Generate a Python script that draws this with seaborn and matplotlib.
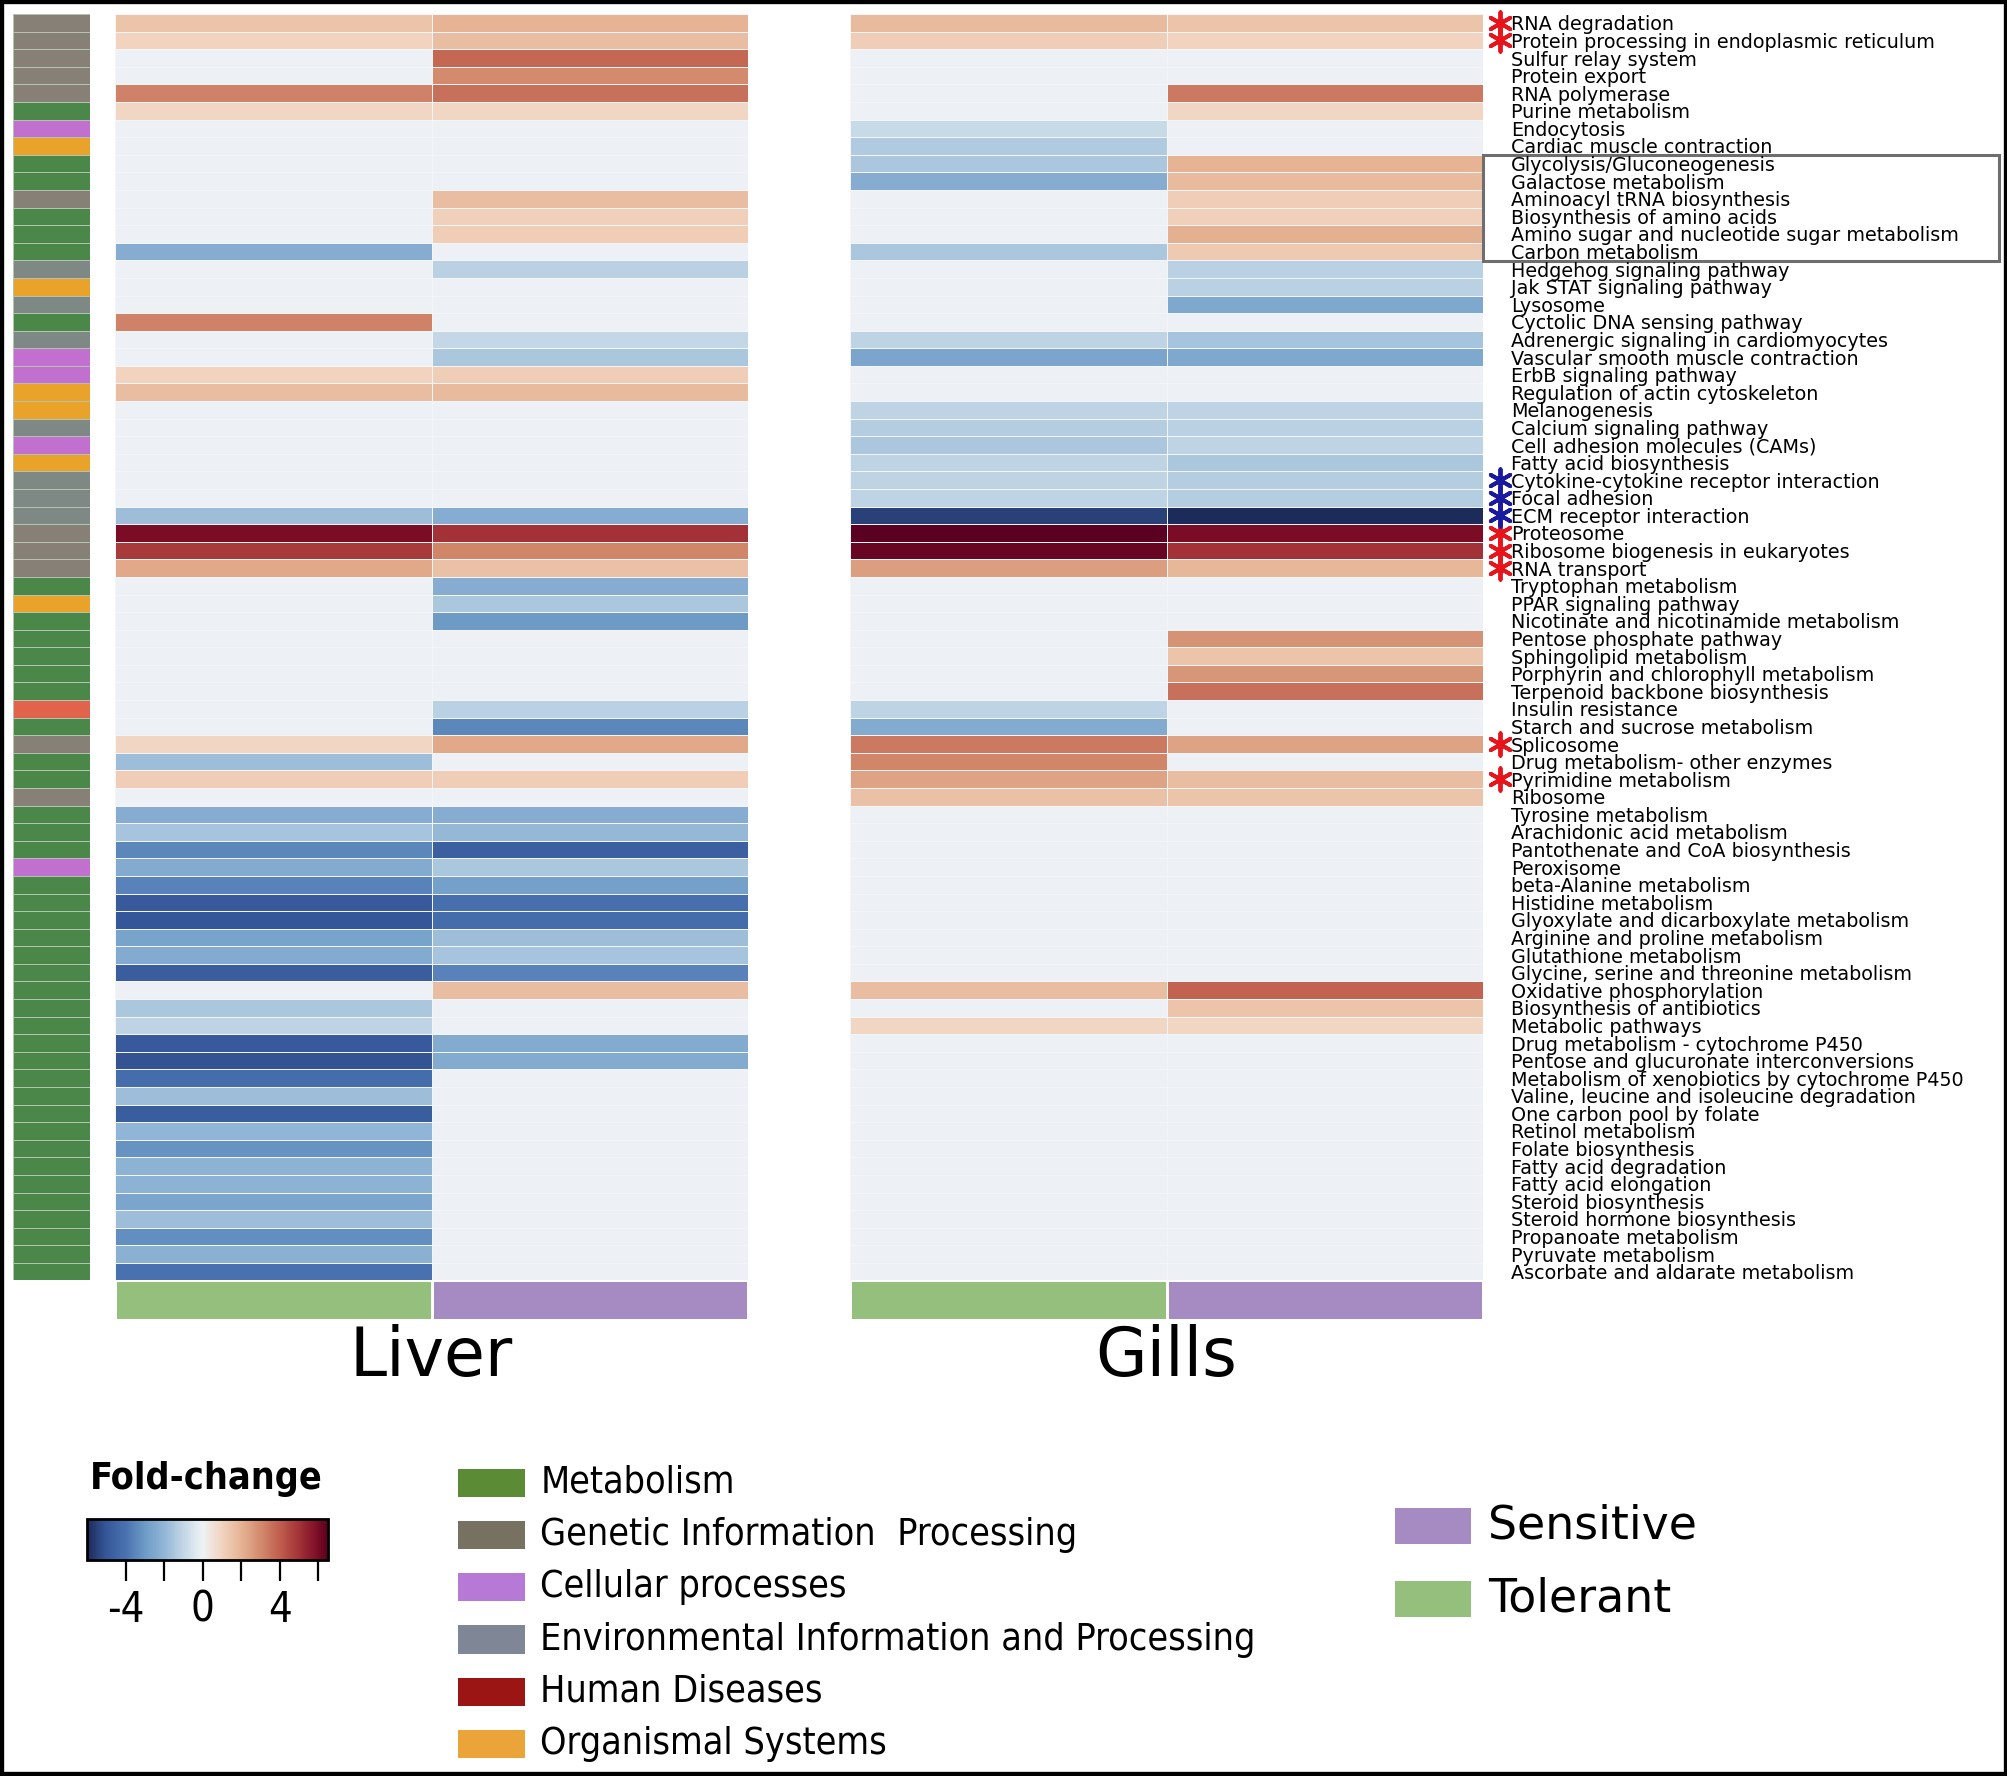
import numpy as np
import pandas as pd
import matplotlib
matplotlib.use("Agg")
import matplotlib.pyplot as plt
import seaborn as sns
from matplotlib.colors import LinearSegmentedColormap, ListedColormap, Normalize
from matplotlib.patches import Rectangle
from matplotlib import font_manager
import matplotlib.cm as cm

# ---- data ----
pathways = [
    "RNA degradation", "Protein processing in endoplasmic reticulum", "Sulfur relay system",
    "Protein export", "RNA polymerase", "Purine metabolism", "Endocytosis",
    "Cardiac muscle contraction", "Glycolysis/Gluconeogenesis", "Galactose metabolism",
    "Aminoacyl tRNA biosynthesis", "Biosynthesis of amino acids",
    "Amino sugar and nucleotide sugar metabolism", "Carbon metabolism",
    "Hedgehog signaling pathway", "Jak STAT signaling pathway", "Lysosome",
    "Cyctolic DNA sensing pathway", "Adrenergic signaling in cardiomyocytes",
    "Vascular smooth muscle contraction", "ErbB signaling pathway",
    "Regulation of actin cytoskeleton", "Melanogenesis", "Calcium signaling pathway",
    "Cell adhesion molecules (CAMs)", "Fatty acid biosynthesis",
    "Cytokine-cytokine receptor interaction", "Focal adhesion", "ECM receptor interaction",
    "Proteosome", "Ribosome biogenesis in eukaryotes", "RNA transport",
    "Tryptophan metabolism", "PPAR signaling pathway",
    "Nicotinate and nicotinamide metabolism", "Pentose phosphate pathway",
    "Sphingolipid metabolism", "Porphyrin and chlorophyll metabolism",
    "Terpenoid backbone biosynthesis", "Insulin resistance", "Starch and sucrose metabolism",
    "Splicosome", "Drug metabolism- other enzymes", "Pyrimidine metabolism", "Ribosome",
    "Tyrosine metabolism", "Arachidonic acid metabolism", "Pantothenate and CoA biosynthesis",
    "Peroxisome", "beta-Alanine metabolism", "Histidine metabolism",
    "Glyoxylate and dicarboxylate metabolism", "Arginine and proline metabolism",
    "Glutathione metabolism", "Glycine, serine and threonine metabolism",
    "Oxidative phosphorylation", "Biosynthesis of antibiotics", "Metabolic pathways",
    "Drug metabolism - cytochrome P450", "Pentose and glucuronate interconversions",
    "Metabolism of xenobiotics by cytochrome P450",
    "Valine, leucine and isoleucine degradation", "One carbon pool by folate",
    "Retinol metabolism", "Folate biosynthesis", "Fatty acid degradation",
    "Fatty acid elongation", "Steroid biosynthesis", "Steroid hormone biosynthesis",
    "Propanoate metabolism", "Pyruvate metabolism", "Ascorbate and aldarate metabolism",
]

liver_tolerant = [1.5, 1.0, 0, 0, 3.2, 0.9, 0, 0, 0, 0,
                  0, 0, 0, -2.3, 0, 0, 0, 3.2, 0, 0,
                  1.0, 1.7, 0, 0, 0, 0, 0, 0, -1.8, 6.0,
                  4.8, 2.3, 0, 0, 0, 0, 0, 0, 0, 0,
                  0, 0.9, -1.8, 1.2, 0, -2.3, -1.6, -3.5, -2.4, -3.6,
                  -4.9, -5.0, -2.7, -2.4, -4.8, 0, -1.5, -1.1, -4.9, -5.1,
                  -4.2, -1.8, -4.8, -2.0, -3.2, -2.1, -2.1, -2.6, -1.8, -3.3,
                  -2.2, -4.0]
liver_sensitive = [2.0, 1.7, 3.8, 3.0, 3.6, 0.9, 0, 0, 0, 0,
                   1.7, 1.1, 1.2, 0, -1.2, 0, 0, 0, -1.0, -1.5,
                   1.2, 1.8, 0, 0, 0, 0, 0, 0, -2.3, 5.0,
                   3.1, 1.6, -2.3, -1.5, -3.0, 0, 0, 0, 0, -1.2,
                   -3.5, 2.3, 0, 1.2, 0, -2.3, -1.9, -4.7, -1.5, -2.8,
                   -4.1, -4.2, -1.8, -1.6, -3.6, 1.7, 0, 0, -2.4, -2.4,
                   0, 0, 0, 0, 0, 0, 0, 0, 0, 0,
                   0, 0]
gills_tolerant = [1.8, 1.2, 0, 0, 0, 0, -0.9, -1.4, -1.5, -2.3,
                  0, 0, 0, -1.5, 0, 0, 0, 0, -1.1, -2.6,
                  0, 0, -1.1, -1.3, -1.5, -1.1, -1.1, -1.1, -5.5, 6.5,
                  6.3, 2.5, 0, 0, 0, 0, 0, 0, 0, -1.1,
                  -2.4, 3.4, 3.1, 2.4, 1.6, 0, 0, 0, 0, 0,
                  0, 0, 0, 0, 0, 1.7, 0, 0.9, 0, 0,
                  0, 0, 0, 0, 0, 0, 0, 0, 0, 0,
                  0, 0]
gills_sensitive = [1.5, 1.0, 0, 0, 3.4, 0.9, 0, 0, 2.0, 1.8,
                   1.2, 1.1, 2.1, 1.3, -1.2, -1.2, -2.5, 0, -1.6, -2.5,
                   0, 0, -1.1, -1.2, -1.1, -1.5, -1.3, -1.3, -6.0, 6.0,
                   5.0, 1.9, 0, 0, 0, 2.8, 1.5, 2.7, 3.6, 0,
                   0, 2.4, 0, 1.7, 1.5, 0, 0, 0, 0, 0,
                   0, 0, 0, 0, 0, 3.9, 1.5, 0.9, 0, 0,
                   0, 0, 0, 0, 0, 0, 0, 0, 0, 0,
                   0, 0]

# M metabolism, G genetic info, C cellular, E environmental, H human diseases, O organismal
category = list("GGGGGMCOMMGMMMEOEMECCOOECOEEEGGGMOMMMMMHMGMMGMMMC") + ["M"] * 23

red_star = ["RNA degradation", "Protein processing in endoplasmic reticulum", "Proteosome",
            "Ribosome biogenesis in eukaryotes", "RNA transport", "Splicosome",
            "Pyrimidine metabolism"]
blue_star = ["Cytokine-cytokine receptor interaction", "Focal adhesion",
             "ECM receptor interaction"]

cat_codes = ["M", "G", "C", "E", "H", "O"]
cat_names = ["Metabolism", "Genetic Information  Processing", "Cellular processes",
             "Environmental Information and Processing", "Human Diseases", "Organismal Systems"]
cat_bar_colors = ["#4b8748", "#878077", "#c170d0", "#7e8885", "#e2634b", "#e9a22a"]
cat_legend_colors = ["#5b8c35", "#767160", "#b679d6", "#7f8696", "#9b1515", "#eaa43a"]

groups = ["Tolerant", "Sensitive"]
group_colors = ["#94bf7c", "#a58bc2"]

# fold-change colour scale
fc_vmin, fc_vmax = -6, 6.5
fc_anchor_vals = [-6, -5, -4, -3, -2, -1, 0, 1, 2, 3, 4, 5, 6, 6.5]
fc_anchor_cols = ["#1c2b5a", "#36589a", "#4a72b0", "#6d9bc6", "#92b6d6", "#c3d7e6", "#eef2f5",
                  "#f1d3bf", "#e6b495", "#d38b6e", "#c05f4e", "#a33337", "#7c0c26", "#5a0020"]
fc_cmap = LinearSegmentedColormap.from_list(
    "fc", [((v - fc_vmin) / (fc_vmax - fc_vmin), c) for v, c in zip(fc_anchor_vals, fc_anchor_cols)])

# condensed font for the legend, if available
cond_path = font_manager.findfont(font_manager.FontProperties(family="DejaVu Sans", stretch="condensed"))
has_cond = "Condensed" in cond_path
leg_stretch = "condensed" if has_cond else "normal"
leg_size = 27 if has_cond else 24

W, H = 1568, 1387


def box(x0, y0, x1, y1):
    return [x0 / W, 1 - y1 / H, (x1 - x0) / W, (y1 - y0) / H]


fig = plt.figure(figsize=(20.08, 17.76), dpi=100)

# category strip
ax_c = fig.add_axes(box(10, 11, 70, 1000))
cat_idx = pd.DataFrame({"cat": [cat_codes.index(c) for c in category]}, index=pathways)
sns.heatmap(cat_idx, ax=ax_c, cmap=ListedColormap(cat_bar_colors), vmin=-0.5, vmax=5.5,
            cbar=False, linewidths=0.5, linecolor="#b4c2b0", xticklabels=False, yticklabels=False)

tissues = [("Liver", liver_tolerant, liver_sensitive, 90),
           ("Gills", gills_tolerant, gills_sensitive, 664)]
for name, tol, sen, x0 in tissues:
    ax = fig.add_axes(box(x0, 11, x0 + 494, 1000))
    df = pd.DataFrame({"Tolerant": tol, "Sensitive": sen}, index=pathways)
    sns.heatmap(df, ax=ax, cmap=fc_cmap, vmin=fc_vmin, vmax=fc_vmax, cbar=False,
                linewidths=0.5, linecolor="#f4f5f6", xticklabels=False,
                yticklabels=pathways if name == "Gills" else False)
    ax_grp = fig.add_axes(box(x0, 1000, x0 + 494, 1031))
    sns.heatmap(pd.DataFrame([[0, 1]], columns=groups), ax=ax_grp,
                cmap=ListedColormap(group_colors), vmin=-0.5, vmax=1.5, cbar=False,
                linewidths=1, linecolor="white", xticklabels=False, yticklabels=False)
    fig.text((x0 + 247) / W, 1 - 1060 / H, name, fontsize=48, ha="center", va="center")
    if name == "Gills":
        ax.yaxis.tick_right()
        ax.tick_params(axis="y", length=0, pad=20, labelsize=13.8)
        plt.setp(ax.get_yticklabels(), rotation=0, ha="left")
        ry = [pathways.index(p) + 0.5 for p in red_star]
        by = [pathways.index(p) + 0.5 for p in blue_star]
        ax.scatter([2.053] * len(ry), ry, marker=(6, 2, 0), s=260, color="#e8141c",
                   linewidths=2.8, clip_on=False, zorder=5)
        ax.scatter([2.053] * len(by), by, marker=(6, 2, 0), s=260, color="#1a1aa0",
                   linewidths=2.8, clip_on=False, zorder=5)
        ax.add_patch(Rectangle((2.0, 8.0), 1.63, 6.05, fill=False, ec="#6e6e6e", lw=2.2,
                               clip_on=False))

# fold-change colour bar
fig.text(70 / W, 1 - 1155 / H, "Fold-change", fontsize=27, fontweight="bold",
         fontstretch=leg_stretch, va="center")
ax_cb = fig.add_axes(box(68, 1186, 256, 1218))
sm = cm.ScalarMappable(norm=Normalize(fc_vmin, fc_vmax), cmap=fc_cmap)
cb = fig.colorbar(sm, cax=ax_cb, orientation="horizontal", ticks=[-4, -2, 0, 2, 4, 6])
cb.set_ticklabels(["-4", "", "0", "", "4", ""])
cb.ax.tick_params(length=15, width=1.6, labelsize=30, pad=6)
for t in cb.ax.get_xticklabels():
    t.set_fontstretch(leg_stretch)
cb.outline.set_linewidth(2)

# category legend
for i, (nm, col) in enumerate(zip(cat_names, cat_legend_colors)):
    yc = 1158 + i * 40.8
    fig.add_artist(Rectangle((358 / W, 1 - (yc + 11) / H), 52 / W, 22 / H,
                             transform=fig.transFigure, fc=col, ec="none"))
    fig.text(422 / W, 1 - yc / H, nm, fontsize=leg_size, fontstretch=leg_stretch, va="center")

# group legend
for i, (nm, col) in enumerate(zip(["Sensitive", "Tolerant"], [group_colors[1], group_colors[0]])):
    yc = 1192 + i * 57
    fig.add_artist(Rectangle((1089 / W, 1 - (yc + 14) / H), 60 / W, 28 / H,
                             transform=fig.transFigure, fc=col, ec="none"))
    fig.text(1162 / W, 1 - yc / H, nm, fontsize=33, va="center")

# frame
fig.add_artist(Rectangle((0, 0), 1, 1, transform=fig.transFigure, fill=False, ec="black", lw=6))

fig.savefig("out.png", dpi=100)
